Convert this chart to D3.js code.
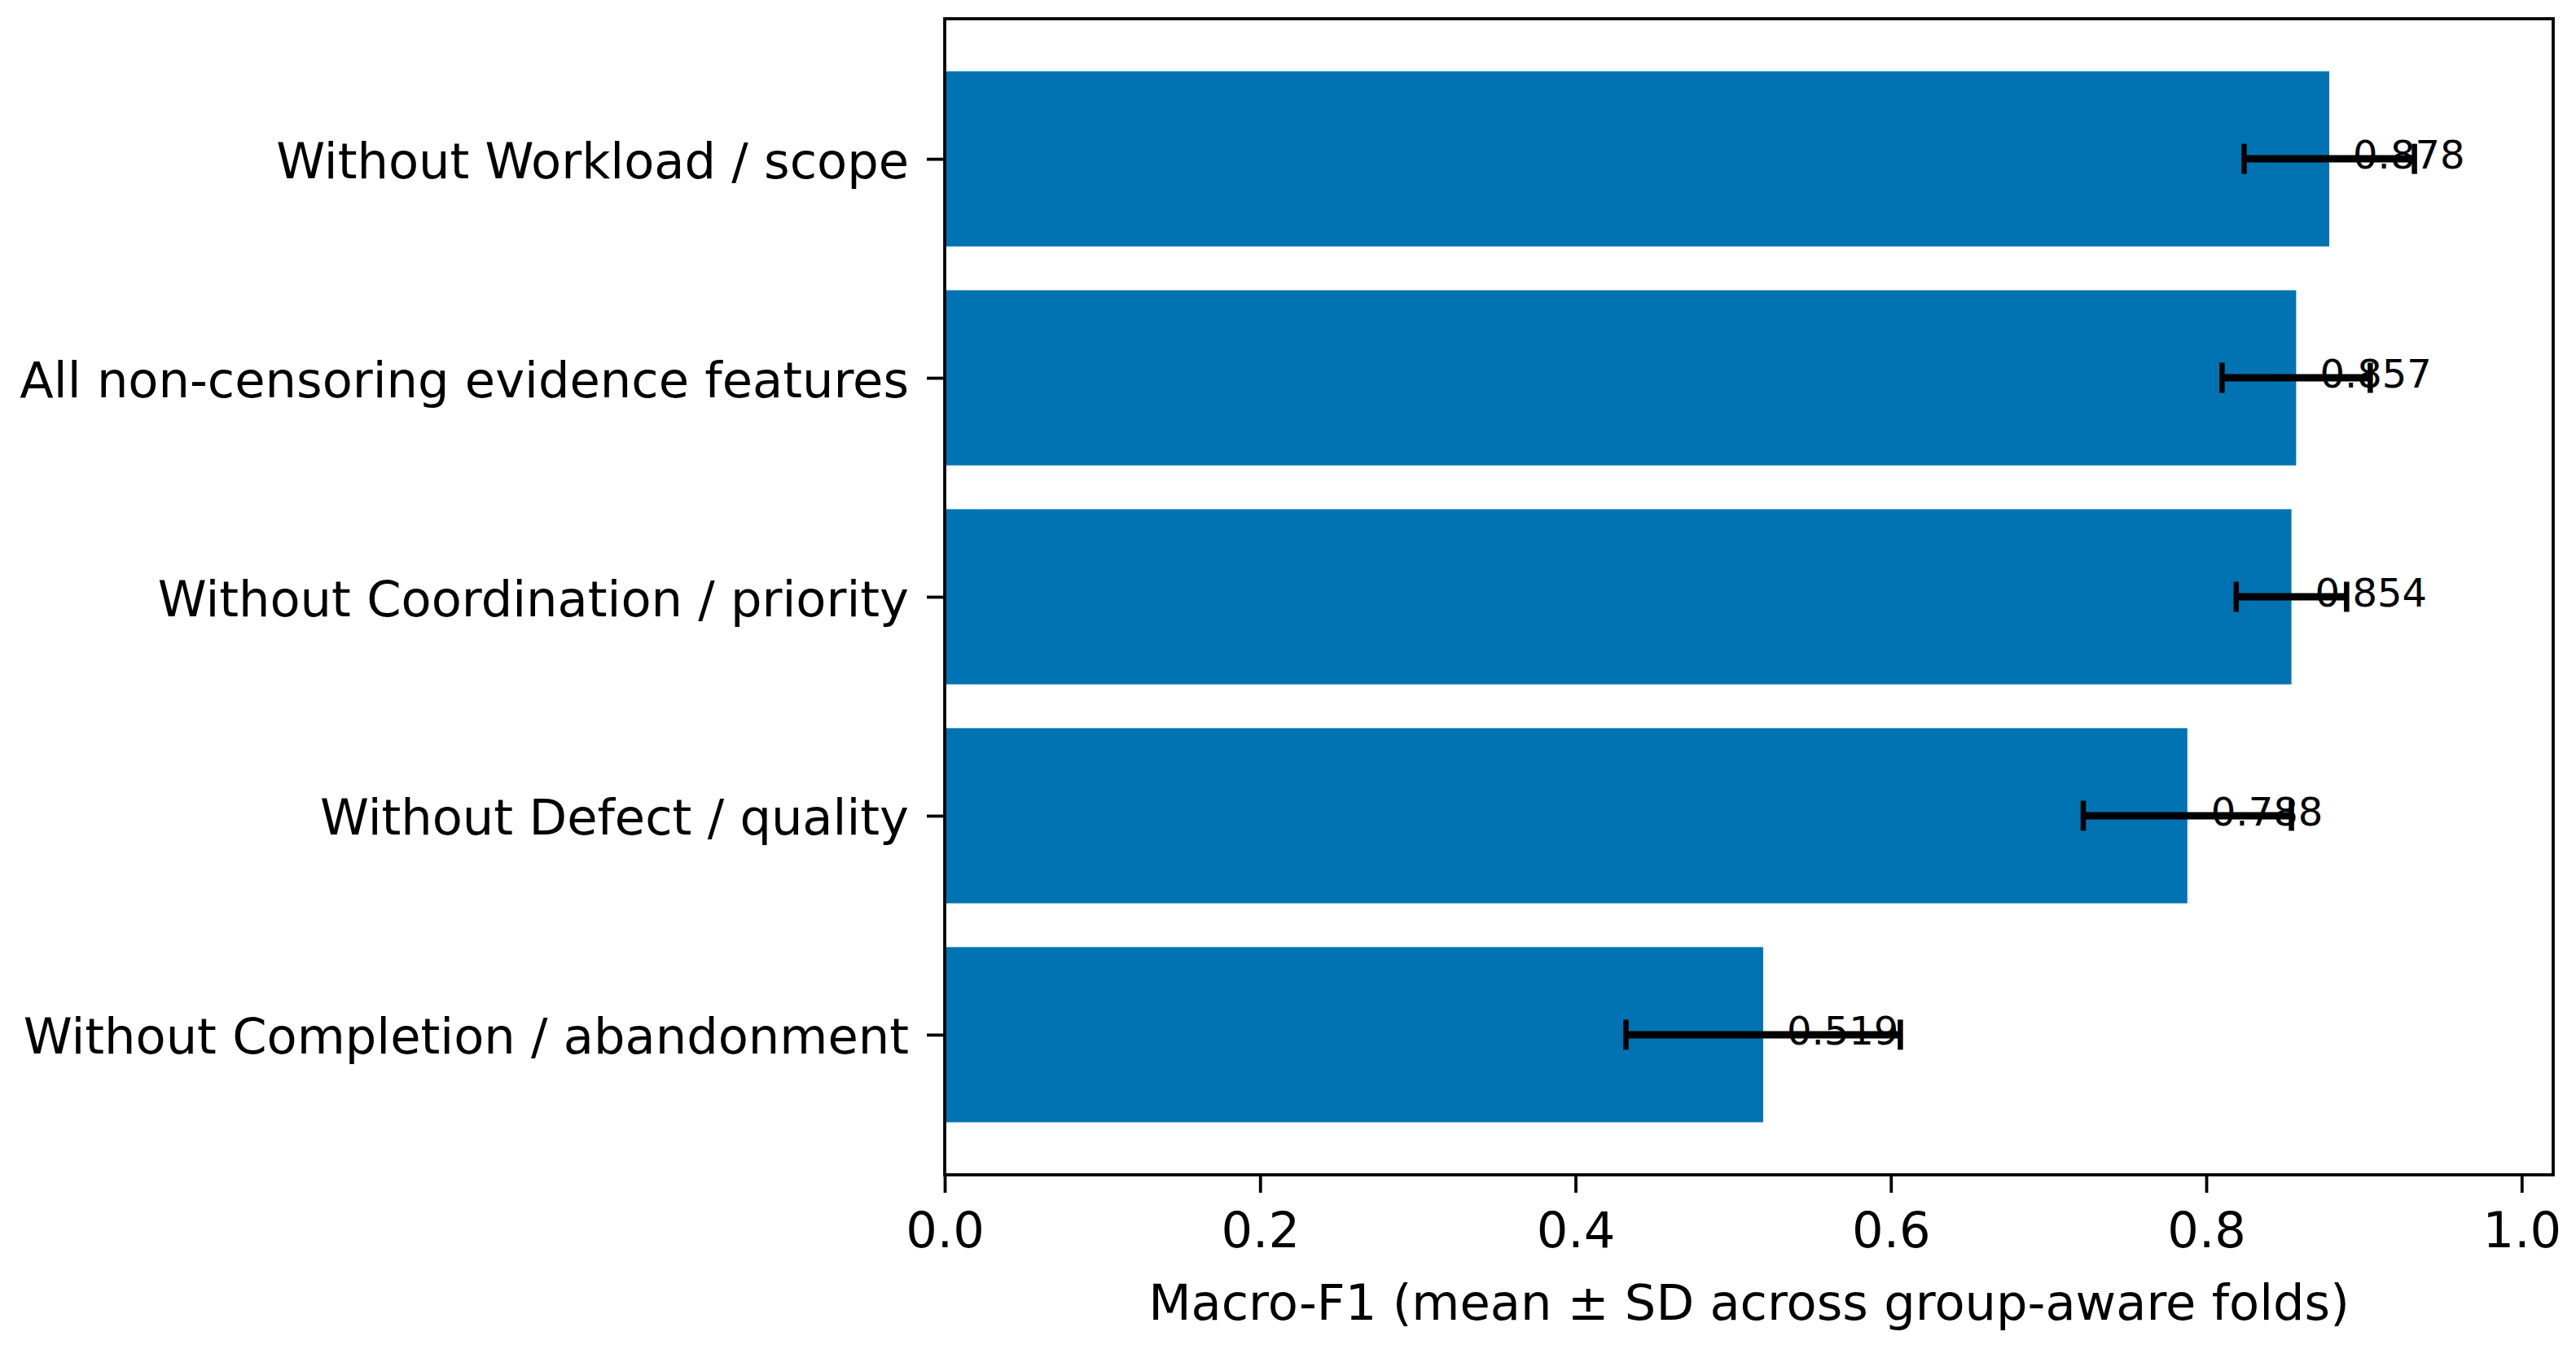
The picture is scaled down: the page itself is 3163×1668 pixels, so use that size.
<!DOCTYPE html>
<html>
<head>
<meta charset="utf-8">
<script src="https://cdn.jsdelivr.net/npm/d3@7"></script>
<style>
  body { margin: 0; background: #fff; }
  text { font-family: "DejaVu Sans", sans-serif; fill: #000; }
</style>
</head>
<body>
<svg id="chart" width="3163" height="1668"></svg>
<script>
// ablation results, top to bottom
var categories = ["Without Workload / scope", "All non-censoring evidence features",
                  "Without Coordination / priority", "Without Defect / quality",
                  "Without Completion / abandonment"];
var means = [0.878, 0.857, 0.854, 0.788, 0.519];
var sds = [0.054, 0.047, 0.035, 0.066, 0.087];
var xTicks = [0.0, 0.2, 0.4, 0.6, 0.8, 1.0];
var xLabel = "Macro-F1 (mean \u00b1 SD across group-aware folds)";

var svg = d3.select("#chart");
// plot area (note: "top" is reserved on window, so use other names)
var plotL = 1160, plotR = 3135, plotT = 23, plotB = 1443;
var fs = 60.7;

var x = d3.scaleLinear().domain([0, 1.02]).range([plotL, plotR]);
// bars sit at integer positions, matplotlib-style margins
var y = d3.scaleLinear().domain([-0.64, categories.length - 1 + 0.64]).range([plotT, plotB]);
var barH = y(0.8) - y(0);

var g = svg.append("g");

// bars
g.selectAll(".bar")
  .data(means)
  .enter()
  .append("rect")
  .attr("class", "bar")
  .attr("x", x(0))
  .attr("y", (d, i) => y(i) - barH / 2)
  .attr("width", d => x(d) - x(0))
  .attr("height", barH)
  .attr("fill", "#0173b2");

// error bars
var eb = g.selectAll(".err")
  .data(means)
  .enter()
  .append("g")
  .attr("class", "err")
  .attr("stroke", "#000");

eb.append("line")
  .attr("stroke-width", 9)
  .attr("x1", (d, i) => x(d - sds[i]))
  .attr("x2", (d, i) => x(d + sds[i]))
  .attr("y1", (d, i) => y(i))
  .attr("y2", (d, i) => y(i));

eb.append("line")
  .attr("stroke-width", 6.5)
  .attr("x1", (d, i) => x(d - sds[i]))
  .attr("x2", (d, i) => x(d - sds[i]))
  .attr("y1", (d, i) => y(i) - 18.5)
  .attr("y2", (d, i) => y(i) + 18.5);

eb.append("line")
  .attr("stroke-width", 6.5)
  .attr("x1", (d, i) => x(d + sds[i]))
  .attr("x2", (d, i) => x(d + sds[i]))
  .attr("y1", (d, i) => y(i) - 18.5)
  .attr("y2", (d, i) => y(i) + 18.5);

// value labels
g.selectAll(".val")
  .data(means)
  .enter()
  .append("text")
  .attr("class", "val")
  .attr("x", d => x(d + 0.015))
  .attr("y", (d, i) => y(i) + 12)
  .attr("font-size", 48)
  .text(d => d.toFixed(3));

// x axis
var xAxis = d3.axisBottom(x)
  .tickValues(xTicks)
  .tickFormat(d3.format(".1f"))
  .tickSizeInner(22)
  .tickSizeOuter(0)
  .tickPadding(24);

var xg = svg.append("g")
  .attr("transform", `translate(0,${plotB})`)
  .call(xAxis);
xg.select(".domain").remove();
xg.selectAll(".tick line").attr("stroke", "#000").attr("stroke-width", 3.8);
xg.selectAll(".tick text")
  .attr("font-size", fs)
  .attr("font-family", "DejaVu Sans")
  .attr("fill", "#000");

// y axis
var yAxis = d3.axisLeft(y)
  .tickValues(d3.range(categories.length))
  .tickFormat(i => categories[i])
  .tickSizeInner(22)
  .tickSizeOuter(0)
  .tickPadding(22);

var yg = svg.append("g")
  .attr("transform", `translate(${plotL},0)`)
  .call(yAxis);
yg.select(".domain").remove();
yg.selectAll(".tick line").attr("stroke", "#000").attr("stroke-width", 3.8);
yg.selectAll(".tick text")
  .attr("font-size", fs)
  .attr("font-family", "DejaVu Sans")
  .attr("fill", "#000")
  .attr("dy", null)
  .attr("y", 23);

// frame
svg.append("rect")
  .attr("x", plotL)
  .attr("y", plotT)
  .attr("width", plotR - plotL)
  .attr("height", plotB - plotT)
  .attr("fill", "none")
  .attr("stroke", "#000")
  .attr("stroke-width", 3.8);

// x label
svg.append("text")
  .attr("x", (plotL + plotR) / 2)
  .attr("y", 1621)
  .attr("text-anchor", "middle")
  .attr("font-size", fs)
  .text(xLabel);
</script>
</body>
</html>
